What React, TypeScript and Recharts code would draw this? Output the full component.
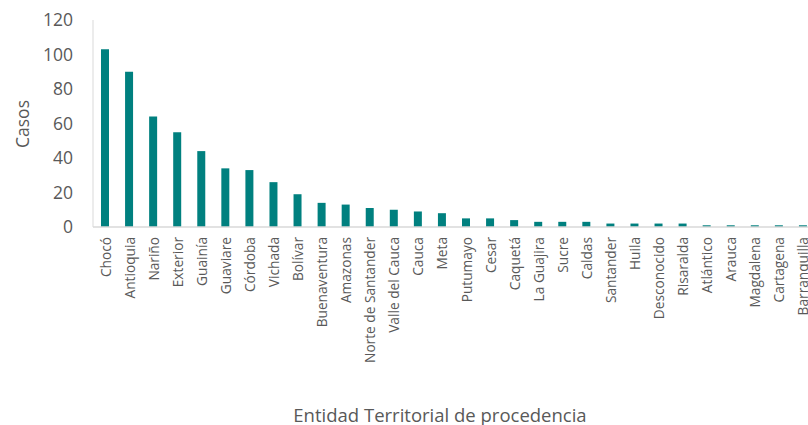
import { BarChart, Bar, XAxis, YAxis } from "recharts";

const categories = [
  "Chocó", "Antioquia", "Nariño", "Exterior", "Guainía", "Guaviare", "Córdoba",
  "Vichada", "Bolívar", "Buenaventura", "Amazonas", "Norte de Santander",
  "Valle del Cauca", "Cauca", "Meta", "Putumayo", "Cesar", "Caquetá",
  "La Guajira", "Sucre", "Caldas", "Santander", "Huila", "Desconocido",
  "Risaralda", "Atlántico", "Arauca", "Magdalena", "Cartagena", "Barranquilla",
];
const casos = [
  103, 90, 64, 55, 44, 34, 33, 26, 19, 14, 13, 11, 10, 9, 8, 5, 5, 4, 3, 3, 3,
  2, 2, 2, 2, 1, 1, 1, 1, 1,
];
const yTicks = [0, 20, 40, 60, 80, 100, 120];

const data = categories.map((name, i) => ({ name, casos: casos[i] }));

const FONT = "'Open Sans', sans-serif";
const GREY = "#595959";

// rotated category labels, read top-down from the axis
function CategoryTick(props: any) {
  const { x, y, payload } = props;
  return (
    <text
      x={x}
      y={y}
      transform={`rotate(-90 ${x} ${y})`}
      textAnchor="end"
      dominantBaseline="central"
      fontFamily={FONT}
      fontSize={13.7}
      fill={GREY}
    >
      {payload.value}
    </text>
  );
}

export default function App() {
  return (
    <div style={{ position: "absolute", left: 0, top: 0, background: "#fff" }}>
      <BarChart
        width={808}
        height={425}
        data={data}
        margin={{ top: 20, right: -7, bottom: 0, left: 0 }}
        barCategoryGap={8}
      >
        <XAxis
          dataKey="name"
          interval={0}
          height={198}
          tick={<CategoryTick />}
          tickLine={false}
          tickSize={0}
          tickMargin={10}
          axisLine={{ stroke: "#d9d9d9", strokeWidth: 1.5 }}
          label={{
            content: () => (
              <text
                x={440}
                y={414}
                textAnchor="middle"
                dominantBaseline="central"
                fontFamily={FONT}
                fontSize={18.5}
                fill={GREY}
              >
                Entidad Territorial de procedencia
              </text>
            ),
          }}
        />
        <YAxis
          width={93}
          domain={[0, 120]}
          ticks={yTicks}
          interval={0}
          tickLine={false}
          tickSize={0}
          tickMargin={20}
          axisLine={{ stroke: "#d9d9d9", strokeWidth: 1 }}
          tick={{ fontFamily: FONT, fontSize: 17.5, fill: GREY }}
          label={{
            content: () => (
              <text
                x={22}
                y={124}
                transform="rotate(-90 22 124)"
                textAnchor="middle"
                dominantBaseline="central"
                fontFamily={FONT}
                fontSize={17.5}
                fill={GREY}
              >
                Casos
              </text>
            ),
          }}
        />
        <Bar dataKey="casos" fill="#00807f" barSize={8} isAnimationActive={false} />
      </BarChart>
    </div>
  );
}
